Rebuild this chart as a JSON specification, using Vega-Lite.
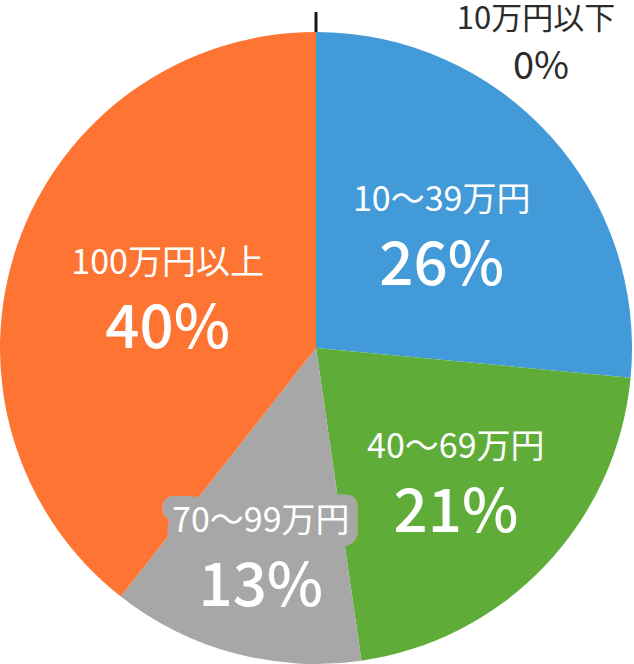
{
  "$schema": "https://vega.github.io/schema/vega-lite/v6.json",
  "width": 632,
  "height": 632,
  "autosize": "none",
  "padding": {"top": 32, "left": 0, "right": 2, "bottom": 0},
  "background": "white",
  "config": {"view": {"stroke": null}, "text": {"font": "Noto Sans CJK JP"}},
  "data": {
    "values": [
      {"order": 1, "category": "10万円以下", "label": "0%", "pct": 0},
      {"order": 2, "category": "10～39万円", "label": "26%", "pct": 26.5},
      {"order": 3, "category": "40～69万円", "label": "21%", "pct": 21.2},
      {"order": 4, "category": "70～99万円", "label": "13%", "pct": 12.9},
      {"order": 5, "category": "100万円以上", "label": "40%", "pct": 39.4}
    ]
  },
  "encoding": {
    "theta": {"field": "pct", "type": "quantitative", "stack": true},
    "order": {"field": "order", "type": "ordinal"}
  },
  "layer": [
    {
      "mark": {"type": "arc", "outerRadius": 316},
      "encoding": {
        "color": {
          "field": "category",
          "type": "nominal",
          "scale": {
            "domain": ["10万円以下", "10～39万円", "40～69万円", "70～99万円", "100万円以上"],
            "range": ["#cccccc", "#429bd8", "#5fad38", "#a7a7a7", "#fd7433"]
          },
          "legend": null
        }
      }
    },
    {
      "mark": {"type": "arc", "innerRadius": 316, "outerRadius": 336, "fillOpacity": 0, "stroke": "#1a1a1a", "strokeWidth": 3},
      "encoding": {
        "strokeOpacity": {"condition": {"test": "datum.pct === 0", "value": 1}, "value": 0}
      }
    },
    {
      "mark": {"type": "text", "fontSize": 34, "dy": -33, "fill": "#a7a7a7", "stroke": "#a7a7a7", "strokeWidth": 22, "strokeJoin": "round"},
      "encoding": {
        "radius": {"field": "pct", "type": "quantitative", "scale": {"type": "linear", "zero": false, "nice": false, "domain": [0, 12.9, 21.2, 26.5, 39.4], "range": [332, 214, 193, 170, 157]}},
        "text": {"condition": {"test": "datum.category === '70～99万円'", "field": "category"}, "value": ""}
      }
    },
    {
      "mark": {"type": "text", "fontSize": 34, "dy": -33, "fill": "white"},
      "encoding": {
        "radius": {"field": "pct", "type": "quantitative"},
        "text": {"condition": {"test": "datum.pct > 0", "field": "category"}, "value": ""}
      }
    },
    {
      "mark": {"type": "text", "fontSize": 60, "fontWeight": 500, "dy": 33, "fill": "white"},
      "encoding": {
        "radius": {"field": "pct", "type": "quantitative"},
        "text": {"condition": {"test": "datum.pct > 0", "field": "label"}, "value": ""}
      }
    },
    {
      "mark": {"type": "text", "fontSize": 31, "radius": 328, "dx": 220, "fill": "#2b2b2b"},
      "encoding": {
        "text": {"condition": {"test": "datum.pct === 0", "field": "category"}, "value": ""}
      }
    },
    {
      "mark": {"type": "text", "fontSize": 38, "radius": 328, "dx": 225, "dy": 48, "fill": "#2b2b2b"},
      "encoding": {
        "text": {"condition": {"test": "datum.pct === 0", "field": "label"}, "value": ""}
      }
    }
  ]
}
